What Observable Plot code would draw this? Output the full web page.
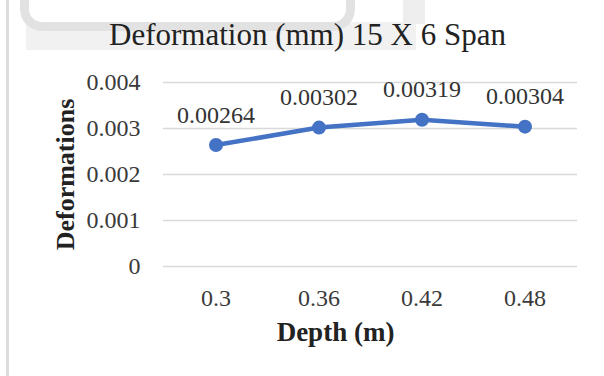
<!DOCTYPE html>
<html>
<head>
<meta charset="utf-8">
<script src="https://cdn.jsdelivr.net/npm/d3@7"></script>
<script src="https://cdn.jsdelivr.net/npm/@observablehq/plot@0.6"></script>
<style>
  html, body { margin: 0; padding: 0; background: #fff; }
  #wrap { position: relative; width: 604px; height: 376px; overflow: hidden; background: #fff; }
  #leftBorder { position: absolute; left: 6px; top: 0; width: 3px; height: 376px; background: #dcdcdc; }
  #deco2 { position: absolute; left: 26px; top: 22px; width: 390px; height: 28px; background: #f1f1f1; }
  #deco1 { position: absolute; left: 20px; top: -40px; width: 317px; height: 62px;
           border: 9px solid #e2e2e2; border-top: none; border-radius: 0 0 22px 22px; }
  #deco3 { position: absolute; left: 403px; top: 0; width: 22px; height: 24px; background: #eeeeee; }
  #chart { position: absolute; left: 0; top: 0; }
</style>
</head>
<body>
<div id="wrap">
  <div id="leftBorder"></div>
  <div id="deco2"></div>
  <div id="deco1"></div>
  <div id="deco3"></div>
  <div id="chart"></div>
</div>
<script>
const depths = ["0.3", "0.36", "0.42", "0.48"];
const deformations = [0.00264, 0.00302, 0.00319, 0.00304];
const deformationLabels = ["0.00264", "0.00302", "0.00319", "0.00304"];
const yTicks = [0, 0.001, 0.002, 0.003, 0.004];
const yTickLabels = ["0", "0.001", "0.002", "0.003", "0.004"];
const titleText = "Deformation (mm) 15 X 6 Span";
const xLabel = "Depth (m)";
const yLabel = "Deformations";

const data = depths.map((d, i) => ({depth: d, value: deformations[i], label: deformationLabels[i]}));
const font = "'Liberation Serif', 'Times New Roman', serif";
const blue = "#4472C4";

const plot = Plot.plot({
  width: 604,
  height: 376,
  marginLeft: 163,
  marginRight: 27,
  marginTop: 82,
  marginBottom: 110,
  style: {fontFamily: font, background: "transparent", color: "#333"},
  x: {type: "band", domain: depths, padding: 0},
  y: {domain: [0, 0.004]},
  marks: [
    Plot.gridY(yTicks, {stroke: "#d9d9d9", strokeOpacity: 1, strokeWidth: 1.5}),
    Plot.axisY(yTicks, {tickSize: 0, tickPadding: 23, fontSize: 24, label: null,
      tickFormat: (d) => yTickLabels[yTicks.indexOf(d)], fill: "#3a3a3a"}),
    Plot.axisX({tickSize: 0, tickPadding: 22, fontSize: 24, label: null, fill: "#3a3a3a"}),
    Plot.line(data, {x: "depth", y: "value", stroke: blue, strokeWidth: 4.5}),
    Plot.dot(data, {x: "depth", y: "value", r: 7, fill: blue, stroke: "none"}),
    Plot.text(data, {x: "depth", y: "value", text: "label", dy: -30, fontSize: 24, fill: "#333"}),
    Plot.text([yLabel], {frameAnchor: "left", textAnchor: "middle", rotate: -90, dx: -98, fontSize: 26, fontWeight: "bold", fill: "#222"}),
    Plot.text([xLabel], {frameAnchor: "bottom", lineAnchor: "middle", dx: -35, dy: 66, fontSize: 27, fontWeight: "bold", fill: "#222"}),
    Plot.text([titleText], {frameAnchor: "top", lineAnchor: "middle", dx: -63, dy: -47, fontSize: 31, fill: "#222"})
  ]
});
document.getElementById("chart").appendChild(plot);
</script>
</body>
</html>
